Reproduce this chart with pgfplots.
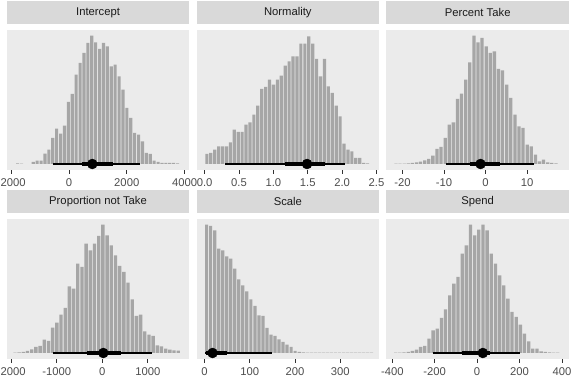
\documentclass[border=0pt]{standalone}
\usepackage{fontspec}
\setmainfont{Liberation Sans}
\usepackage{pgfplots}
\pgfplotsset{compat=1.18}
\definecolor{grey92}{HTML}{EBEBEB}
\definecolor{grey85}{HTML}{D9D9D9}
\definecolor{grey30}{HTML}{4D4D4D}
\definecolor{grey20}{HTML}{333333}
\definecolor{grey10}{HTML}{1A1A1A}
\definecolor{slab}{HTML}{A6A6A6}
\pgfplotsset{
  panel/.style={
    scale only axis, width=182.5bp, height=140bp, anchor=south west,
    ymin=-6, ymax=134, ytick=\empty,
    axis line style={draw=none},
    axis background/.style={fill=grey92},
    xtick pos=left, tick align=outside, major tick length=3.6bp,
    tick style={draw=grey20, line width=0.7bp},
    xticklabel style={font=\fontsize{11.3}{13}\selectfont, text=grey30, inner sep=0pt, yshift=-5bp},
    title style={at={(0.5,1)}, anchor=south, yshift=0pt, fill=grey85,
      minimum width=182.5bp, minimum height=23bp, inner sep=0pt,
      font=\fontsize{11.3}{13}\selectfont, text=grey10},
    clip=true,
  },
  hist/.style={ybar, fill=slab, draw=none, bar width=#1},
  thin/.style={black, line width=1.9bp},
  thick/.style={black, line width=4.4bp},
  pt/.style={only marks, mark=*, mark size=5bp, black},
}
\begin{document}
\begin{tikzpicture}
\useasboundingbox (0bp,0bp) rectangle (576bp,384bp);
\clip (0bp,0bp) rectangle (576bp,384bp);

% ---------- Intercept ----------
\begin{axis}[panel, at={(6.8bp,214bp)}, title={Intercept},
  xmin=-2153, xmax=4165, xtick={-2000,0,2000,4000}, xticklabels={-2000,0,2000,4000}]
\addplot[hist=108] coordinates {
(-1776,0.5) (-1641,0.3) (-1236,2) (-1101,3.3) (-966,3.3) (-831,10.3) (-696,14.3)
(-561,26) (-426,35.3) (-291,30.3) (-156,38.3) (-21,62) (114,70) (249,89.3)
(384,101) (519,111) (654,121) (789,128.3) (924,121.7) (1059,115) (1194,121)
(1329,117.7) (1464,97.7) (1599,99.3) (1734,87.7) (1869,74.3) (2004,56) (2139,46)
(2274,31) (2409,29.3) (2544,22.7) (2679,11) (2814,10) (2949,3.3) (3084,2)
(3219,1) (3354,1) (3489,1) (3624,1) (3759,0.5)};
\addplot[thin] coordinates {(-543,0) (2458,0)};
\addplot[thick] coordinates {(440,0) (1513,0)};
\addplot[pt] coordinates {(807,0)};
\end{axis}

% ---------- Normality ----------
\begin{axis}[panel, at={(196.6bp,214bp)}, title={Normality},
  xmin=-0.116, xmax=2.538, xtick={0,0.5,1,1.5,2,2.5}, xticklabels={0.0,0.5,1.0,1.5,2.0,2.5}]
\addplot[hist=0.046] coordinates {
(0.033,10) (0.090,11) (0.147,14.3) (0.204,17.7) (0.261,17.7) (0.318,17.7) (0.375,21.7)
(0.432,34.3) (0.489,32) (0.546,32) (0.603,39.3) (0.660,41.7) (0.717,49.3) (0.774,58.3)
(0.831,75) (0.888,77) (0.945,84.3) (1.002,79.3) (1.059,84.3) (1.116,88.3) (1.173,98.3)
(1.230,102.7) (1.287,107.7) (1.344,107.7) (1.401,120.3) (1.458,120.3) (1.515,127.7)
(1.572,120.3) (1.629,105) (1.686,87.7) (1.743,105) (1.800,77.7) (1.857,71) (1.914,58.3)
(1.971,47.7) (2.028,20.3) (2.085,14.3) (2.142,12.7) (2.199,6) (2.256,6) (2.313,1) (2.370,0.5)};
\addplot[thin] coordinates {(0.30,0) (2.035,0)};
\addplot[thick] coordinates {(1.163,0) (1.753,0)};
\addplot[pt] coordinates {(1.49,0)};
\end{axis}

% ---------- Percent Take ----------
\begin{axis}[panel, at={(386.4bp,214bp)}, title={Percent Take},
  xmin=-23.85, xmax=20.06, xtick={-20,-10,0,10}, xticklabels={-20,-10,0,10}]
\addplot[hist=0.79] coordinates {
(-21.56,0.3) (-20.57,0.3) (-19.58,0.3) (-18.6,0.5) (-17.61,1) (-16.62,1.7) (-15.64,2.3)
(-14.65,3.7) (-13.66,5) (-12.67,8.3) (-11.69,15) (-10.70,17) (-9.71,26) (-8.73,39.3)
(-7.74,41.7) (-6.75,65) (-5.77,70.3) (-4.78,84.3) (-3.79,101.7) (-2.80,128.3)
(-1.82,121.7) (-0.83,126) (0.16,117.7) (1.14,111) (2.13,112.7) (3.12,95) (4.10,93.7)
(5.09,79.3) (6.08,66) (7.07,49.3) (8.05,37.7) (9.04,36) (10.03,19.3) (11.01,17.7)
(12.00,9.3) (12.99,2.7) (13.97,4.3) (14.96,1.7) (15.95,1) (16.94,0.7)};
\addplot[thin] coordinates {(-9.6,0) (11.76,0)};
\addplot[thick] coordinates {(-3.77,0) (3.43,0)};
\addplot[pt] coordinates {(-1.2,0)};
\end{axis}

% ---------- Proportion not Take ----------
\begin{axis}[panel, at={(6.8bp,25bp)}, title={Proportion not Take},
  xmin=-2099, xmax=1912, xtick={-2000,-1000,0,1000}, xticklabels={-2000,-1000,0,1000}]
\addplot[hist=74] coordinates {
(-1919,0.3) (-1827,0.7) (-1735,1) (-1643,2) (-1551,3.7) (-1459,6) (-1367,7)
(-1275,13.3) (-1183,12) (-1091,25.3) (-999,30.3) (-907,38.3) (-815,45) (-723,66.7)
(-631,64.3) (-539,89.3) (-447,86) (-355,109.3) (-263,102.7) (-171,109.3) (-79,117)
(13,128.3) (105,117.7) (197,107.7) (289,97.7) (381,87) (473,81) (565,70.3)
(657,53.7) (749,37) (841,38.3) (933,21.7) (1025,18.3) (1117,17) (1209,7.7)
(1301,6.7) (1393,4.3) (1485,3.3) (1577,2.7) (1669,2.3)};
\addplot[thin] coordinates {(-1090,0) (1086,0)};
\addplot[thick] coordinates {(-330,0) (404,0)};
\addplot[pt] coordinates {(22,0)};
\end{axis}

% ---------- Scale ----------
\begin{axis}[panel, at={(196.6bp,25bp)}, title={Scale},
  xmin=-17.7, xmax=386, xtick={0,100,200,300}, xticklabels={0,100,200,300}]
\addplot[hist=7.1] coordinates {
(4.45,128.3) (13.35,127) (22.25,122.7) (31.15,104.3) (40.05,102.7) (48.95,96.7)
(57.85,94.3) (66.75,84.3) (75.65,73.7) (84.55,67.7) (93.45,61.7) (102.35,53.7)
(111.25,47) (120.15,37.7) (129.05,37) (137.95,25) (146.85,18.3) (155.75,17)
(164.65,13.7) (173.55,11) (182.45,8.3) (191.35,6) (200.25,2) (209.15,1)
(218.05,0.7) (226.95,0.5) (235.85,0.5) (244.75,0.3) (253.65,0.3) (262.55,0.5)
(271.45,0.3) (280.35,0.3) (289.25,0.3) (298.15,0.3) (307.05,0.3) (315.95,0.3)
(324.85,0.3) (333.75,0.3) (342.65,0.3) (351.55,0.3) (360.45,0.3) (369.35,0.3)};
\addplot[thin] coordinates {(1.4,0) (150,0)};
\addplot[thick] coordinates {(3.5,0) (49,0)};
\addplot[pt] coordinates {(17.6,0)};
\end{axis}

% ---------- Spend ----------
\begin{axis}[panel, at={(386.4bp,25bp)}, title={Spend},
  xmin=-428, xmax=433, xtick={-400,-200,0,200,400}, xticklabels={-400,-200,0,200,400}]
\addplot[hist=15.7] coordinates {
(-384,0.3) (-364.4,0.3) (-344.8,0.7) (-325.2,1) (-305.6,2) (-286,3.3) (-266.4,6)
(-246.8,7) (-227.2,14.3) (-207.6,22.7) (-188,24.3) (-168.4,35) (-148.8,43.7)
(-129.2,57.7) (-109.6,69.3) (-90,76) (-70.4,99.3) (-50.8,107.7) (-31.2,128.3)
(-11.6,117.7) (8,123.3) (27.6,128.3) (47.2,122.7) (66.8,99.3) (86.4,89.3)
(106,77.7) (125.6,67.7) (145.2,54.3) (164.8,41) (184.4,36) (204,28.3) (223.6,19.3)
(243.2,11.7) (262.8,4.3) (282.4,4.3) (302,1.7) (321.6,1) (341.2,0.7) (360.8,0.5) (380.4,0.3)};
\addplot[thin] coordinates {(-207,0) (200,0)};
\addplot[thick] coordinates {(-70.6,0) (60,0)};
\addplot[pt] coordinates {(27,0)};
\end{axis}
\end{tikzpicture}
\end{document}
